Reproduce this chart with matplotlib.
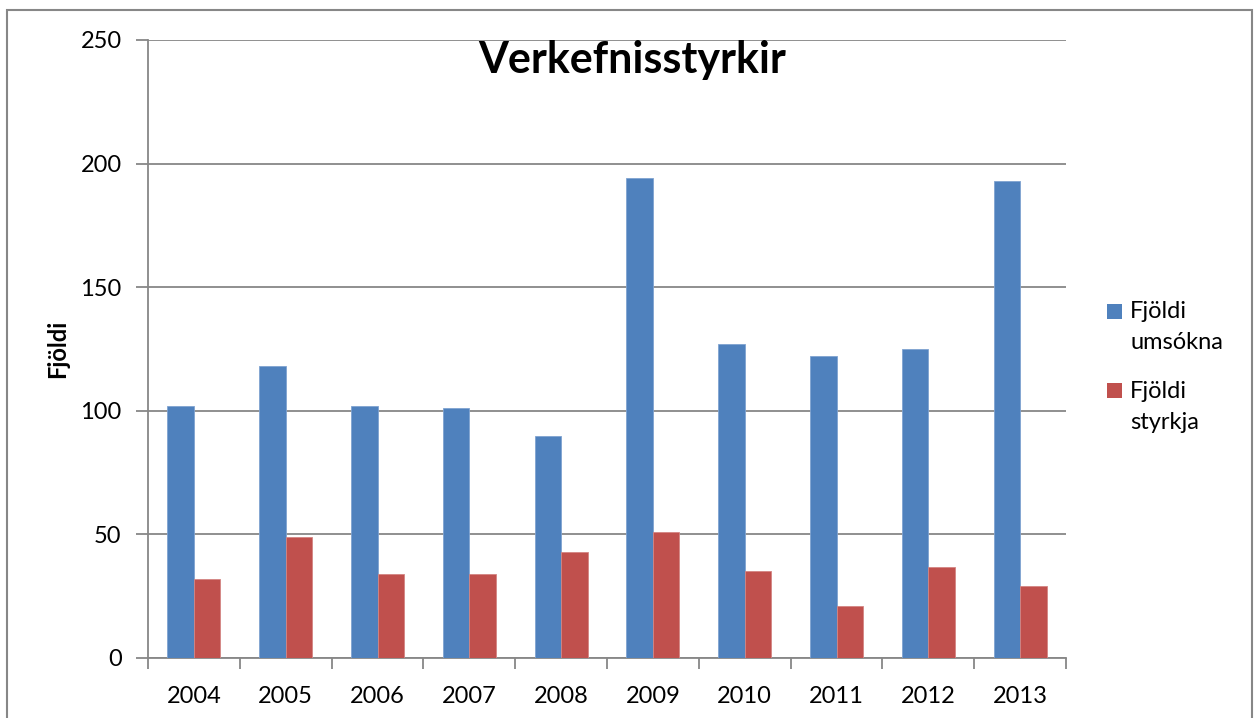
import matplotlib
matplotlib.use("Agg")
import matplotlib.pyplot as plt
from matplotlib.patches import Rectangle
import numpy as np

years = ["2004", "2005", "2006", "2007", "2008", "2009", "2010", "2011", "2012", "2013"]
umsoknir = [102, 118, 102, 101, 90, 194, 127, 122, 125, 193]
styrkir = [32, 49, 34, 34, 43, 51, 35, 21, 37, 29]
series_labels = ["Fjöldi\numsókna", "Fjöldi\nstyrkja"]
series_colors = ["#4F81BD", "#C0504D"]
title = "Verkefnisstyrkir"
ylabel = "Fjöldi"
yticks = [0, 50, 100, 150, 200, 250]

plt.rcParams['font.family'] = ['Lato', 'DejaVu Sans']

W, H = 1254, 718
fig = plt.figure(figsize=(W / 100, H / 100), dpi=100)
fig.patch.set_facecolor("white")

# outer chart border
fig.patches.append(Rectangle((7 / W, -0.01), (1252 - 7) / W, (H - 10) / H + 0.01,
                             transform=fig.transFigure, fill=False,
                             edgecolor="#878787", linewidth=1.5))

ax = fig.add_axes([148 / W, (H - 658) / H, (1066 - 148) / W, 618 / H])
grid_c = "#878787"
x = np.arange(len(years))
w = 0.289
ax.bar(x - w / 2, umsoknir, width=w, color=series_colors[0], edgecolor="#7FA3D1", linewidth=0.6,
       label=series_labels[0], zorder=3)
ax.bar(x + w / 2, styrkir, width=w, color=series_colors[1], edgecolor="#D48583", linewidth=0.6,
       label=series_labels[1], zorder=3)

ax.set_xlim(-0.5, len(years) - 0.5)
ax.set_ylim(0, 250)
ax.set_yticks(yticks)
ax.set_yticklabels([str(v) for v in yticks])
ax.yaxis.grid(True, color=grid_c, linewidth=1.3, zorder=0)
ax.set_axisbelow(True)

ax.set_xticks(x)
ax.set_xticklabels(years)
ax.set_xticks(np.arange(len(years) + 1) - 0.5, minor=True)
ax.tick_params(axis="x", which="major", length=0, pad=20, labelsize=17)
ax.tick_params(axis="x", which="minor", length=8, width=1.3, color=grid_c, direction="out")
ax.tick_params(axis="y", length=9, width=1.3, color=grid_c, pad=10, labelsize=17, direction="out")

for s in ["top", "right"]:
    ax.spines[s].set_visible(False)
for s in ["left", "bottom"]:
    ax.spines[s].set_color(grid_c)
    ax.spines[s].set_linewidth(1.3)

ax.set_ylabel(ylabel, fontsize=17, fontweight="bold", labelpad=8)

fig.text(632 / W, 1 - 60 / H, title, fontsize=31, fontweight="bold", ha="center", va="center")

# legend (drawn manually so the swatch lines up with the first text line)
leg_rows = [311, 391]
for lab, col, yc in zip(series_labels, series_colors, leg_rows):
    fig.patches.append(Rectangle((1107 / W, 1 - (yc + 7.5) / H), 15 / W, 15 / H,
                                 transform=fig.transFigure, facecolor=col, edgecolor="none"))
    fig.text(1130 / W, 1 - (yc - 10) / H, lab, fontsize=17, ha="left", va="top",
             linespacing=1.6)

fig.savefig("out.png", dpi=100, facecolor="white")
